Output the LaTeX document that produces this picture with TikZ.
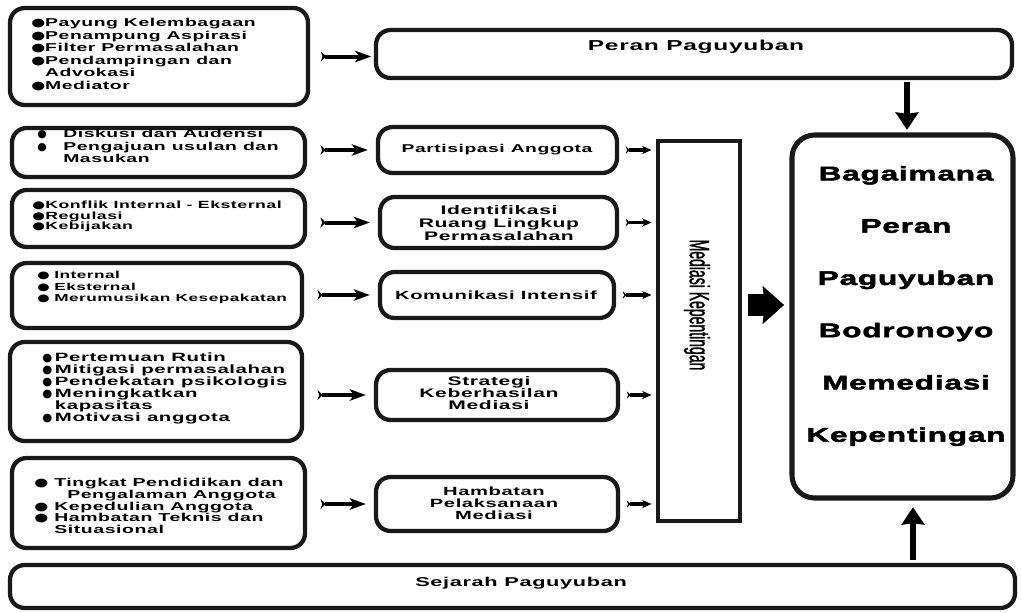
\documentclass[tikz,border=0pt]{standalone}
\usepackage{fontspec}
\usepackage{graphicx}
\setmainfont{Liberation Sans}
\newfontfamily\wf{Liberation Sans}[FakeStretch=1.7,LetterSpace=5]
\newfontfamily\bigf{Liberation Sans}[FakeStretch=1.6,LetterSpace=4,BoldFeatures={FakeBold=2.5}]
\newfontfamily\cf{Liberation Sans}[FakeStretch=0.5,FakeBold=1]
\newfontfamily\dv{DejaVu Sans}[FakeStretch=1.4]
\newfontfamily\dvn{DejaVu Sans}
\usetikzlibrary{fit,arrows.meta}
\newcommand\lf[2]{\wf\bfseries\fontsize{#1}{#2}\selectfont}
\newcommand\bul{{\dv ●}}
\newcommand\bu[1]{\makebox[#1][l]{\dv ●}}
\newcommand\bs[1]{\makebox[#1][l]{\dvn\scalebox{0.95}{●}}}
\begin{document}
\begin{tikzpicture}[x=0.75pt,y=-0.75pt,
  box/.style={draw=black!90, line width=3.2pt, rounded corners=11pt, inner sep=0pt},
  bigbox/.style={draw=black!90, line width=3.8pt, rounded corners=17pt, inner sep=0pt},
  lst/.style={align=left, anchor=north west, inner sep=0pt},
  mtxt/.style={align=center, inner sep=0pt},
  arr/.style={draw=black, line width=3pt, {Stealth[reversed,length=4pt,width=7.5pt]}-{Stealth[length=12pt,width=8.5pt,inset=3pt]}},
  sarr/.style={draw=black, line width=2.4pt, {Stealth[reversed,length=3pt,width=5.5pt]}-{Stealth[length=7pt,width=6pt,inset=2pt]}},
  varr/.style={draw=black, line width=5pt, -{Stealth[length=13pt,width=17pt,inset=1pt]}},
  barr/.style={draw=black, line width=16pt, -{Stealth[length=16pt,width=28pt,inset=1.5pt]}}
]
\useasboundingbox (0,0) rectangle (1021,612);

% left boxes
\node[box, fit={(10,8) (308,105)}] (b1) {};
\node[lst, font=\lf{8.55}{9.45}] (t1) at (31,18) {\bul Payung Kelembagaan\\\bul Penampung Aspirasi\\\bul Filter Permasalahan\\\bul Pendampingan dan\\\phantom{\bul}Advokasi\\\bul Mediator};

\node[box, fit={(12,128) (305,177)}] (b3) {};
\node[lst, font=\lf{8.55}{9.4}] (t3) at (37,129) {\bs{19.5pt}Diskusi dan Audensi\\\bs{19.5pt}Pengajuan usulan dan\\\hspace*{19.5pt}Masukan};

\node[box, fit={(12,190) (305,247)}] (b4) {};
\node[lst, font=\lf{7.8}{7.9}] (t4) at (32,201) {\bu{9.75pt}Konflik Internal - Eksternal\\\bu{9.75pt}Regulasi\\\bu{9.75pt}Kebijakan};

\node[box, fit={(12,263) (302,328)}] (b5) {};
\node[lst, font=\lf{7.6}{8.6}] (t5) at (37,271) {\bu{12.75pt}Internal\\\bu{12.75pt}Eksternal\\\bu{12.75pt}Merumusikan Kesepakatan};

\node[box, fit={(10,342) (302,441)}] (b6) {};
\node[lst, font=\lf{9}{9}] (t6) at (42,353) {\bs{9.5pt}Pertemuan Rutin\\\bs{9.5pt}Mitigasi permasalahan\\\bs{9.5pt}Pendekatan psikologis\\\bs{9.5pt}Meningkatkan\\\hspace*{9.5pt}kapasitas\\\bs{9.5pt}Motivasi anggota};

\node[box, fit={(12,458) (305,548)}] (b7) {};
\node[lst, font=\lf{8.6}{8.8}] (t7) at (34,478) {\bu{15pt}Tingkat Pendidikan dan\\\hspace*{24.75pt}Pengalaman Anggota\\\bu{15pt}Kepedulian Anggota\\\bu{15pt}Hambatan Teknis dan\\\hspace*{15pt}Situasional};

% top and bottom wide boxes
\node[box, fit={(376,30) (1012,78)}] (peran) {};
\node[mtxt, font=\lf{10.8}{11}] (tperan) at (696,47) {Peran Paguyuban};
\node[box, fit={(10,565) (1015,608)}] (sej) {};
\node[mtxt, anchor=west, font=\lf{9.6}{10}] (tsej) at (415,583) {Sejarah Paguyuban};

% middle boxes
\node[box, fit={(378,127) (617,173)}] (m1) {};
\node[mtxt, font=\lf{8.5}{9}] (tm1) at (497,150) {Partisipasi Anggota};
\node[box, fit={(380,197) (617,248)}] (m2) {};
\node[mtxt, font=\lf{9.3}{9.75}] (tm2) at (499,223) {Identifikasi\\Ruang Lingkup\\Permasalahan};
\node[box, fit={(380,272) (614,318)}] (m3) {};
\node[mtxt, font=\lf{8.9}{9}] (tm3) at (496,295) {Komunikasi Intensif};
\node[box, fit={(376,370) (618,420)}] (m4) {};
\node[mtxt, font=\lf{9.3}{9}] (tm4) at (489,393) {Strategi\\Keberhasilan\\Mediasi};
\node[box, fit={(376,477) (618,531)}] (m5) {};
\node[mtxt, font=\lf{8.9}{9}] (tm5) at (494,503) {Hambatan\\Pelaksanaan\\Mediasi};

% mediasi column
\node[draw=black!90, line width=2.6pt, inner sep=0pt, fit={(658,141) (740,521)}] (med) {};
\node[rotate=-90, inner sep=0pt, font=\cf\fontsize{21}{21}\selectfont] (tmed) at (697,305) {Mediasi Kepentingan};

% question box
\node[bigbox, fit={(792,135) (1013,498)}] (q) {};
\node[mtxt, font=\bigf\bfseries\fontsize{14.8}{39.2}\selectfont] (tq) at (906,306) {Bagaimana\\Peran\\Paguyuban\\Bodronoyo\\Memediasi\\Kepentingan};

% connectors
\draw[arr, shorten <=8pt, shorten >=2pt] (b1.east) -- (b1.east -| peran.west);
\draw[arr, shorten <=10pt, shorten >=6pt] (m1.west -| b3.east) -- (m1.west);
\draw[arr, shorten <=10pt, shorten >=6pt] (m2.west -| b4.east) -- (m2.west);
\draw[arr, shorten <=10pt, shorten >=6pt] (m3.west -| b5.east) -- (m3.west);
\draw[arr, shorten <=10pt, shorten >=6pt] (m4.west -| b6.east) -- (m4.west);
\draw[arr, shorten <=10pt, shorten >=6pt] (m5.west -| b7.east) -- (m5.west);

\draw[sarr, shorten <=5pt, shorten >=3.5pt] (m1.east) -- (m1.east -| med.west);
\draw[sarr, shorten <=5pt, shorten >=3.5pt] (m2.east) -- (m2.east -| med.west);
\draw[sarr, shorten <=5pt, shorten >=3.5pt] (m3.east) -- (m3.east -| med.west);
\draw[sarr, shorten <=5pt, shorten >=3.5pt] (m4.east) -- (m4.east -| med.west);
\draw[sarr, shorten <=5pt, shorten >=3.5pt] (m5.east) -- (m5.east -| med.west);

\coordinate (bigy) at (0,305);
\coordinate (dnx) at (907,0);
\coordinate (upx) at (913,0);
\draw[barr, shorten <=5pt, shorten >=4pt] (med.east |- bigy) -- (q.west |- bigy);
\draw[varr, shorten <=1.5pt, shorten >=2pt] (peran.south -| dnx) -- (q.north -| dnx);
\draw[varr, shorten <=2pt, shorten >=5pt] (sej.north -| upx) -- (q.south -| upx);
\end{tikzpicture}
\end{document}
